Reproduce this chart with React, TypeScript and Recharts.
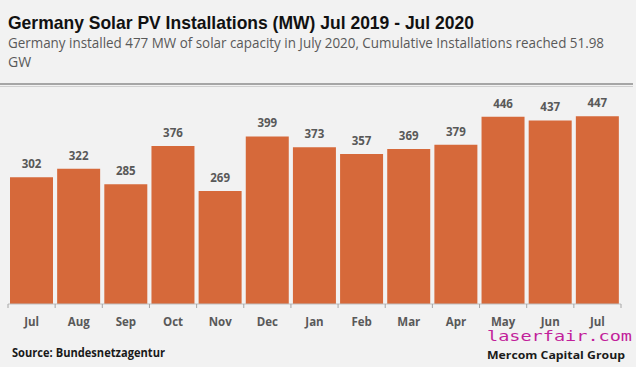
import React from 'react';
import { BarChart, Bar, XAxis, YAxis, LabelList } from 'recharts';

const months = ['Jul', 'Aug', 'Sep', 'Oct', 'Nov', 'Dec', 'Jan', 'Feb', 'Mar', 'Apr', 'May', 'Jun', 'Jul'];
const installedMW = [302, 322, 285, 376, 269, 399, 373, 357, 369, 379, 446, 437, 447];

const chartTitle = 'Germany Solar PV Installations (MW) Jul 2019 - Jul 2020';
const subtitleLines = [
  'Germany installed  477 MW of solar capacity in July 2020, Cumulative  Installations reached 51.98',
  'GW',
];
const sourceText = 'Source: Bundesnetzagentur';
const creditText = 'Mercom Capital Group';
const watermarkText = 'laserfair.com';

const W = 636;
const H = 367;
const margin = { top: 94, right: 15, left: 8, bottom: 0 };
const halfBand = (W - margin.left - margin.right) / months.length / 2;

const data = months.map((month, i) => ({ id: i, month, mw: installedMW[i] }));

// month label plus a small tick mark on the category boundary
const MonthTick = (props: any) => {
  const { x, y, payload, index } = props;
  const isLast = index === months.length - 1;
  return (
    <g>
      <line x1={x - halfBand} x2={x - halfBand} y1={y} y2={y + 4} stroke="#a6a6a6" />
      {isLast && <line x1={x + halfBand} x2={x + halfBand} y1={y} y2={y + 4} stroke="#a6a6a6" />}
      <text
        x={x}
        y={y + 22}
        textAnchor="middle"
        fill="#595959"
        fontSize={11.5}
        fontWeight="bold"
        fontFamily="'Open Sans', sans-serif"
      >
        {months[payload.index ?? index] ?? payload.value}
      </text>
    </g>
  );
};

const App: React.FC = () => {
  return (
    <div style={{ position: 'absolute', left: 0, top: 0, width: W, height: H, background: '#f2f2f2' }}>
      <BarChart width={W} height={H} data={data} margin={margin}>
        <XAxis
          dataKey="id"
          height={63}
          axisLine={{ stroke: '#bfbfbf' }}
          tickLine={false}
          tickSize={0}
          tickMargin={0}
          interval={0}
          tick={<MonthTick />}
        />
        <YAxis hide domain={[0, 500]} />
        <Bar dataKey="mw" fill="#d6693a" barSize={43} isAnimationActive={false}>
          <LabelList
            dataKey="mw"
            position="top"
            offset={9}
            fill="#595959"
            fontSize={11.5}
            fontWeight="bold"
            fontFamily="'Open Sans', sans-serif"
          />
        </Bar>
      </BarChart>
      <svg width={W} height={H} style={{ position: 'absolute', left: 0, top: 0, pointerEvents: 'none' }}>
        <text x={8} y={29} fontSize={19} fontWeight="bold" fontFamily="'Liberation Sans', Arial, sans-serif"
          fill="#111" textLength={466} lengthAdjust="spacingAndGlyphs">
          {chartTitle}
        </text>
        <text x={8} y={48} fontSize={14} fontFamily="'Open Sans', sans-serif" fill="#595959"
          textLength={596} lengthAdjust="spacingAndGlyphs">
          {subtitleLines[0]}
        </text>
        <text x={8} y={67} fontSize={14} fontFamily="'Open Sans', sans-serif" fill="#595959">
          {subtitleLines[1]}
        </text>
        <rect x={0} y={83} width={633} height={2} fill="#a6a6a6" />
        <rect x={0} y={86} width={633} height={1} fill="#d0d0d0" />
        <text x={12} y={357} fontSize={11.5} fontWeight="bold" fontFamily="'Open Sans', sans-serif" fill="#1a1a1a"
          textLength={153} lengthAdjust="spacingAndGlyphs">
          {sourceText}
        </text>
        <text x={487} y={341} fontSize={14} fontFamily="'DejaVu Sans Mono', monospace" fill="#c21f9b"
          textLength={145} lengthAdjust="spacingAndGlyphs">
          {watermarkText}
        </text>
        <text x={487} y={359} fontSize={11} fontWeight="bold" fontFamily="'Open Sans', sans-serif" fill="#1a1a1a"
          textLength={138} lengthAdjust="spacingAndGlyphs">
          {creditText}
        </text>
      </svg>
    </div>
  );
};

export default App;
